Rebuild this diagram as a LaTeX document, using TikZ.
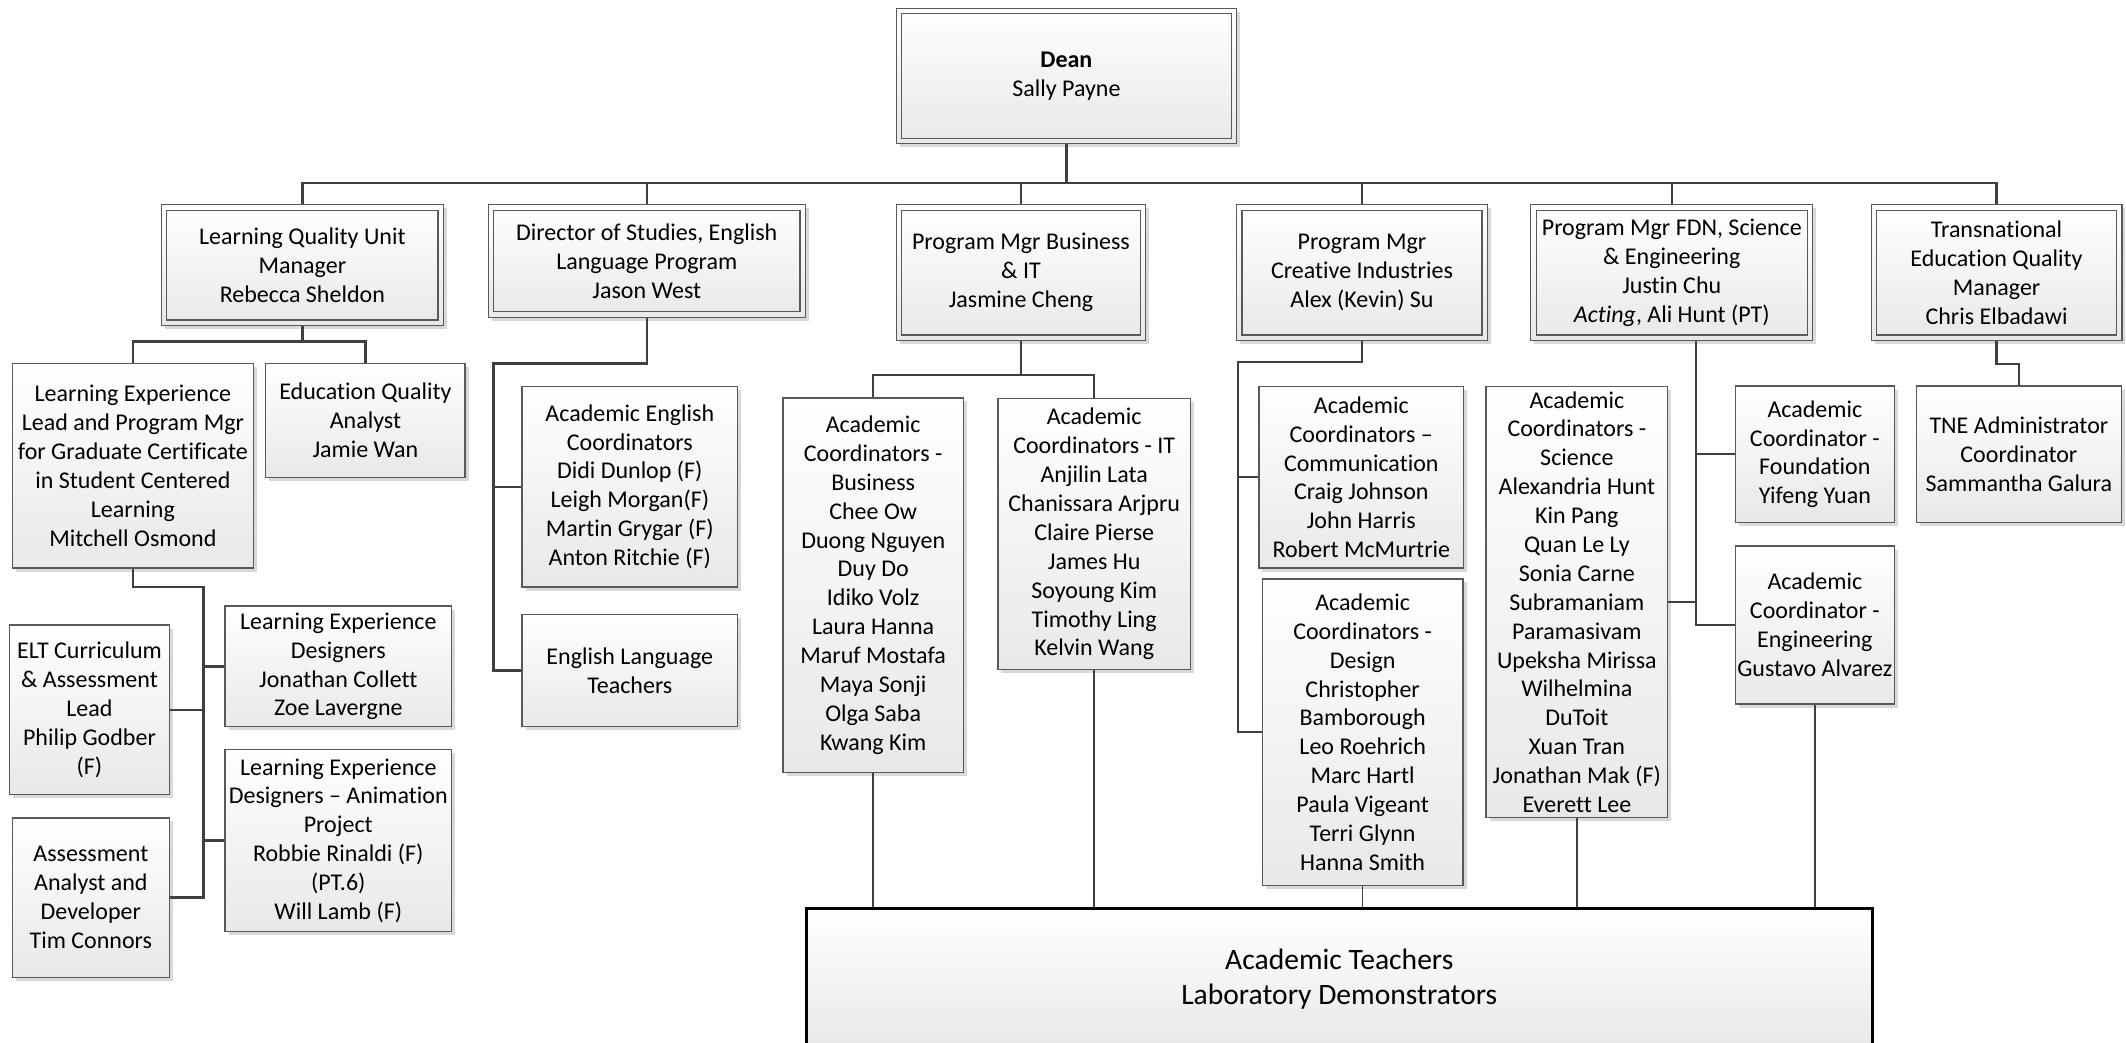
\documentclass[tikz,border=0pt]{standalone}
\usepackage{fontspec}
\setmainfont{Carlito}[Ligatures={TeX,NoCommon}]
\usetikzlibrary{shadows,calc}
\definecolor{linec}{HTML}{404040}
\definecolor{boxc}{HTML}{595959}
\begin{document}
\begin{tikzpicture}[x=0.5pt,y=-0.5pt,
  every node/.style={font=\fontsize{8.85}{10.65}\selectfont},
  box/.style={draw=boxc, line width=0.45pt, top color=white, bottom color=black!9, align=center, inner sep=0pt,
    drop shadow={shadow xshift=1.3pt, shadow yshift=-1.3pt, fill=black, opacity=0.15}},
  sz/.style 2 args={minimum width=#1*0.5pt, minimum height=#2*0.5pt},
  dbl/.style={box, path picture={\draw[boxc, line width=0.45pt] ([shift={(2pt,-2pt)}]path picture bounding box.north west) rectangle ([shift={(-2pt,2pt)}]path picture bounding box.south east);}},
  conn/.style={draw=linec, line width=0.9pt},
  thinc/.style={draw=linec, line width=0.55pt}]
\useasboundingbox (0,0) rectangle (1568,769);

% level 0 and 1
\node[dbl, sz={251}{100}] (dean) at (786.5,56) {\textbf{Dean}\\Sally Payne};
\node[dbl, sz={208}{89}] (lqu) at (223,195.5) {Learning Quality Unit\\Manager\\Rebecca Sheldon};
\node[dbl, sz={234}{83}] (dos) at (477,192.5) {Director of Studies, English\\Language Program\\Jason West};
\node[dbl, sz={184}{100}] (pmb) at (753,201) {Program Mgr Business\\\& IT\\Jasmine Cheng};
\node[dbl, sz={185}{100}] (pmc) at (1004.5,201) {Program Mgr\\Creative Industries\\Alex (Kevin) Su};
\node[dbl, sz={208}{100}] (fdn) at (1233,201) {Program Mgr FDN, Science\\\& Engineering\\Justin Chu\\\textit{Acting}, Ali Hunt (PT)};
\node[dbl, sz={185}{100}] (tne) at (1472.5,201) {Transnational\\Education Quality\\Manager\\Chris Elbadawi};

% level 2
\node[box, sz={178}{151}] (lel) at (98,343.5) {Learning Experience\\Lead and Program Mgr\\for Graduate Certificate\\in Student Centered\\Learning\\Mitchell Osmond};
\node[box, sz={147}{84}] (eqa) at (269.5,310) {Education Quality\\Analyst\\Jamie Wan};
\node[box, sz={159}{148}] (aec) at (464.5,359) {Academic English\\Coordinators\\Didi Dunlop (F)\\Leigh Morgan(F)\\Martin Grygar (F)\\Anton Ritchie (F)};
\node[box, sz={159}{83}] (elt) at (464.5,494.5) {English Language\\Teachers};
\node[box, sz={133}{276}] (acb) at (644,431.5) {Academic\\Coordinators -\\Business\\Chee Ow\\Duong Nguyen\\Duy Do\\Idiko Volz\\Laura Hanna\\Maruf Mostafa\\Maya Sonji\\Olga Saba\\Kwang Kim};
\node[box, sz={142}{200}] (acit) at (807,394) {Academic\\Coordinators - IT\\Anjilin Lata\\Chanissara Arjpru\\Claire Pierse\\James Hu\\Soyoung Kim\\Timothy Ling\\Kelvin Wang};
\node[box, sz={151}{134}] (acc) at (1004,352) {Academic\\Coordinators –\\Communication\\Craig Johnson\\John Harris\\Robert McMurtrie};
\node[box, sz={148}{226}] (acd) at (1005,540) {Academic\\Coordinators -\\Design\\Christopher\\Bamborough\\Leo Roehrich\\Marc Hartl\\Paula Vigeant\\Terri Glynn\\Hanna Smith};
\node[box, sz={134}{318}] (acs) at (1163,444) {Academic\\Coordinators -\\Science\\Alexandria Hunt\\Kin Pang\\Quan Le Ly\\Sonia Carne\\Subramaniam\\Paramasivam\\Upeksha Mirissa\\Wilhelmina\\DuToit\\Xuan Tran\\Jonathan Mak (F)\\Everett Lee};
\node[box, sz={117}{100.5}] (acf) at (1338.5,335) {Academic\\Coordinator -\\Foundation\\Yifeng Yuan};
\node[box, sz={117}{116.5}] (ace) at (1338.5,461) {Academic\\Coordinator -\\Engineering\\Gustavo Alvarez};
\node[box, sz={151}{100.5}] (tnea) at (1489,335) {TNE Administrator\\Coordinator\\Sammantha Galura};

% level 3
\node[box, sz={167}{89}] (led) at (249.5,491.5) {Learning Experience\\Designers\\Jonathan Collett\\Zoe Lavergne};
\node[box, sz={117.5}{125}] (eltc) at (66,523.5) {ELT Curriculum\\\& Assessment\\Lead\\Philip Godber\\(F)};
\node[box, sz={167}{134}] (leda) at (249.5,620) {Learning Experience\\Designers – Animation\\Project\\Robbie Rinaldi (F)\\(PT.6)\\Will Lamb (F)};
\node[box, sz={115.5}{117.5}] (aad) at (67,662) {Assessment\\Analyst and\\Developer\\Tim Connors};

% bottom
\node[draw=black, line width=1.1pt, top color=white, bottom color=black!9, sz={786.5}{104},
  font=\fontsize{10.9}{13}\selectfont, align=center, inner sep=0pt, anchor=north] (atl) at (987.75,669)
  {Academic Teachers\\Laboratory Demonstrators};

% connectors
\coordinate (bus) at (786.5,135);
\draw[conn] (dean.south) -- (bus);
\draw[conn] (lqu.north) |- (bus) -| (tne.north);
\foreach \n in {dos,pmb,pmc,fdn} \draw[conn] (\n.north) -- (\n.north |- bus);

\coordinate (j1) at (223,252);
\draw[conn] (lqu.south) -- (j1);
\draw[conn] (lel.north) |- (j1) -| (eqa.north);

\coordinate (j2) at (150,433);
\draw[conn] (lel.south) |- (j2) |- (aad.east);
\draw[conn] (led.west) -- (led.west -| j2);
\draw[conn] (eltc.east) -- (eltc.east -| j2);
\draw[conn] (leda.west) -- (leda.west -| j2);

\coordinate (j4) at (364,268);
\draw[conn] (dos.south) |- (j4) |- (elt.west);
\draw[conn] (aec.west) -- (aec.west -| j4);

\coordinate (j5) at (753,276.5);
\draw[conn] (pmb.south) -- (j5);
\draw[conn] (acb.north) |- (j5) -| (acit.north);

\coordinate (j6) at (913,267);
\draw[conn] (pmc.south) |- (j6) |- (acd.west);
\draw[conn] (acc.west) -- (acc.west -| j6);

\coordinate (j7) at (1251,461);
\draw[conn] (j7 |- fdn.south) |- (ace.west);
\draw[conn] (acf.west) -- (acf.west -| j7);
\draw[conn] (acs.east) -- (acs.east -| j7);

\coordinate (j8) at (1472.5,268.5);
\draw[conn] (tne.south) -- (j8) -| (tnea.north);

\foreach \n in {acb,acit,acd,acs,ace} \draw[thinc] (\n.south) -- (\n.south |- atl.north);
\end{tikzpicture}
\end{document}
